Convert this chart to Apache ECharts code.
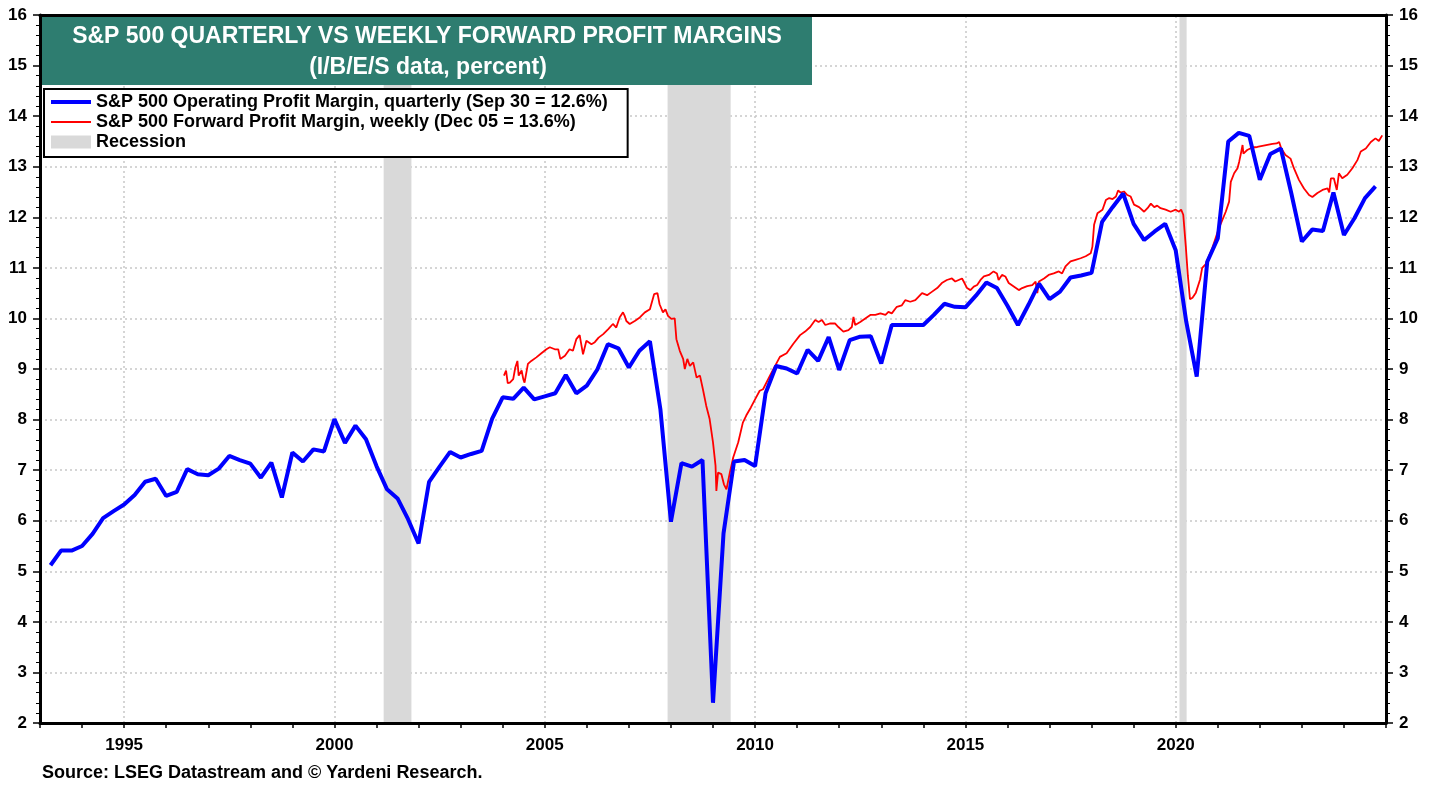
<!DOCTYPE html>
<html>
<head>
<meta charset="utf-8">
<title>S&amp;P 500 Quarterly vs Weekly Forward Profit Margins</title>
<script src="https://cdn.jsdelivr.net/npm/echarts@6/dist/echarts.min.js"></script>
<style>
  html, body { margin: 0; padding: 0; background: #fff; }
  #chart { width: 1438px; height: 787px; }
</style>
</head>
<body>
<div id="chart"></div>
<script>
// Quarterly operating profit margin, 1993 Q1 .. 2024 Q3 (percent)
const quarterlyMargin = [
  5.12, 5.41, 5.41, 5.50,   // 1993
  5.74, 6.05, 6.19, 6.32,   // 1994
  6.51, 6.77, 6.83, 6.49,   // 1995
  6.57, 7.02, 6.92, 6.90,   // 1996
  7.03, 7.28, 7.20, 7.13,   // 1997
  6.85, 7.15, 6.46, 7.35,   // 1998
  7.17, 7.41, 7.37, 8.01,   // 1999
  7.54, 7.88, 7.61, 7.08,   // 2000
  6.62, 6.44, 6.03, 5.55,   // 2001
  6.77, 7.07, 7.36, 7.25,   // 2002
  7.32, 7.38, 8.02, 8.44,   // 2003
  8.41, 8.63, 8.40, 8.46,   // 2004
  8.52, 8.88, 8.52, 8.67,   // 2005
  8.99, 9.49, 9.41, 9.03,   // 2006
  9.36, 9.55, 8.20, 5.98,   // 2007
  7.14, 7.07, 7.20, 2.40,   // 2008
  5.75, 7.17, 7.20, 7.08,   // 2009
  8.52, 9.06, 9.01, 8.91,   // 2010
  9.38, 9.16, 9.63, 8.98,   // 2011
  9.57, 9.64, 9.65, 9.11,   // 2012
  9.87, 9.87, 9.87, 9.87,   // 2013
  10.07, 10.29, 10.23, 10.22, // 2014
  10.45, 10.71, 10.60, 10.25, // 2015
  9.87, 10.27, 10.69, 10.38,  // 2016
  10.53, 10.81, 10.85, 10.90, // 2017
  11.91, 12.20, 12.47, 11.87, // 2018
  11.55, 11.72, 11.87, 11.35, // 2019
  9.94, 8.85, 11.12, 11.58,   // 2020
  13.50, 13.67, 13.61, 12.74, // 2021
  13.25, 13.36, 12.47, 11.52, // 2022
  11.76, 11.73, 12.49, 11.65, // 2023
  11.98, 12.38, 12.61         // 2024
];
const firstYear = 1993;

// Weekly forward profit margin, sampled off the chart as [decimal year, percent]
const forwardMargin = [
  [2004.03, 8.87], [2004.08, 8.97], [2004.10, 9.00], [2004.12, 8.72], [2004.17, 8.73],
  [2004.25, 8.80], [2004.30, 9.03], [2004.35, 9.16], [2004.38, 8.87], [2004.45, 8.97],
  [2004.49, 8.80], [2004.52, 8.73], [2004.60, 9.10], [2004.68, 9.16], [2004.80, 9.23],
  [2004.92, 9.31], [2005.04, 9.39], [2005.12, 9.43], [2005.24, 9.39], [2005.32, 9.39],
  [2005.37, 9.20], [2005.48, 9.26], [2005.59, 9.39], [2005.67, 9.36], [2005.75, 9.59],
  [2005.83, 9.67], [2005.91, 9.29], [2005.99, 9.56], [2006.11, 9.49], [2006.19, 9.53],
  [2006.28, 9.62], [2006.39, 9.69], [2006.51, 9.79], [2006.62, 9.89], [2006.70, 9.82],
  [2006.78, 10.02], [2006.86, 10.12], [2006.90, 10.05], [2006.94, 9.95], [2007.02, 9.89],
  [2007.14, 9.95], [2007.26, 10.02], [2007.38, 10.12], [2007.50, 10.18], [2007.60, 10.48],
  [2007.68, 10.50], [2007.73, 10.28], [2007.81, 10.12], [2007.87, 10.18], [2007.93, 10.05],
  [2008.01, 9.99], [2008.09, 10.00], [2008.13, 9.59], [2008.21, 9.36], [2008.29, 9.20],
  [2008.33, 9.00], [2008.39, 9.20], [2008.45, 9.06], [2008.53, 9.13], [2008.61, 8.83],
  [2008.69, 8.87], [2008.76, 8.60], [2008.84, 8.27], [2008.92, 8.01], [2009.00, 7.55],
  [2009.06, 7.09], [2009.08, 6.59], [2009.12, 6.95], [2009.20, 6.92], [2009.26, 6.72],
  [2009.32, 6.62], [2009.40, 6.95], [2009.48, 7.25], [2009.60, 7.55], [2009.71, 7.94],
  [2009.79, 8.08], [2009.90, 8.24], [2010.00, 8.40], [2010.11, 8.57], [2010.19, 8.60],
  [2010.36, 8.88], [2010.59, 9.24], [2010.75, 9.31], [2010.91, 9.50], [2011.07, 9.67],
  [2011.19, 9.74], [2011.31, 9.83], [2011.43, 9.97], [2011.51, 9.93], [2011.59, 9.97],
  [2011.67, 9.87], [2011.79, 9.90], [2011.90, 9.90], [2011.98, 9.83], [2012.10, 9.74],
  [2012.22, 9.77], [2012.30, 9.83], [2012.34, 10.03], [2012.38, 9.87], [2012.50, 9.93],
  [2012.62, 10.00], [2012.74, 10.07], [2012.86, 10.07], [2012.98, 10.10], [2013.10, 10.07],
  [2013.17, 10.13], [2013.25, 10.10], [2013.37, 10.23], [2013.49, 10.26], [2013.57, 10.36],
  [2013.69, 10.33], [2013.81, 10.36], [2013.89, 10.43], [2013.97, 10.50], [2014.09, 10.46],
  [2014.21, 10.53], [2014.33, 10.60], [2014.44, 10.70], [2014.56, 10.76], [2014.68, 10.79],
  [2014.76, 10.73], [2014.84, 10.76], [2014.92, 10.79], [2014.96, 10.73], [2015.04, 10.60],
  [2015.12, 10.56], [2015.20, 10.63], [2015.28, 10.66], [2015.36, 10.76], [2015.44, 10.83],
  [2015.56, 10.86], [2015.67, 10.93], [2015.75, 10.89], [2015.79, 10.76], [2015.87, 10.86],
  [2015.95, 10.83], [2016.03, 10.70], [2016.15, 10.63], [2016.27, 10.56], [2016.35, 10.60],
  [2016.47, 10.64], [2016.59, 10.66], [2016.67, 10.73], [2016.71, 10.50], [2016.75, 10.73],
  [2016.87, 10.79], [2016.98, 10.86], [2017.10, 10.89], [2017.22, 10.93], [2017.30, 10.89],
  [2017.38, 11.03], [2017.50, 11.13], [2017.62, 11.16], [2017.74, 11.19], [2017.86, 11.23],
  [2017.98, 11.29], [2018.02, 11.42], [2018.06, 11.85], [2018.14, 12.08], [2018.26, 12.15],
  [2018.34, 12.34], [2018.42, 12.38], [2018.50, 12.36], [2018.58, 12.41], [2018.63, 12.53],
  [2018.69, 12.49], [2018.77, 12.51], [2018.85, 12.44], [2018.93, 12.41], [2019.01, 12.25],
  [2019.13, 12.20], [2019.25, 12.11], [2019.33, 12.18], [2019.41, 12.27], [2019.49, 12.20],
  [2019.56, 12.23], [2019.64, 12.18], [2019.76, 12.15], [2019.88, 12.11], [2020.00, 12.15],
  [2020.08, 12.11], [2020.13, 12.15], [2020.18, 12.05], [2020.24, 11.43], [2020.29, 10.84],
  [2020.34, 10.38], [2020.40, 10.41], [2020.48, 10.51], [2020.52, 10.48], [2020.58, 10.77],
  [2020.63, 11.00], [2020.71, 11.07], [2020.79, 11.23], [2020.87, 11.39], [2020.95, 11.59],
  [2021.03, 11.79], [2021.11, 11.95], [2021.19, 12.11], [2021.27, 12.31], [2021.31, 12.70],
  [2021.39, 12.87], [2021.47, 12.97], [2021.51, 13.10], [2021.55, 13.26], [2021.59, 13.43],
  [2021.61, 13.26], [2021.70, 13.33], [2021.82, 13.38], [2021.94, 13.39], [2022.06, 13.41],
  [2022.18, 13.43], [2022.30, 13.45], [2022.40, 13.46], [2022.46, 13.49], [2022.51, 13.36],
  [2022.61, 13.23], [2022.73, 13.16], [2022.81, 12.97], [2022.93, 12.74], [2023.05, 12.57],
  [2023.17, 12.44], [2023.25, 12.40], [2023.37, 12.48], [2023.49, 12.54], [2023.61, 12.57],
  [2023.65, 12.49], [2023.69, 12.77], [2023.76, 12.77], [2023.83, 12.54], [2023.88, 12.87],
  [2023.96, 12.77], [2024.08, 12.84], [2024.20, 12.97], [2024.32, 13.13], [2024.40, 13.30],
  [2024.52, 13.36], [2024.64, 13.49], [2024.75, 13.56], [2024.83, 13.51], [2024.91, 13.62]
];

// Recession periods [start, end] in decimal years
const recessions = [[2001.17, 2001.83], [2007.92, 2009.42], [2020.09, 2020.26]];

// Years with vertical grid lines and labels
const labelYears = [1995, 2000, 2005, 2010, 2015, 2020];

const legendNames = [
  'S&P 500 Operating Profit Margin, quarterly (Sep 30 = 12.6%)',
  'S&P 500 Forward Profit Margin, weekly (Dec 05 = 13.6%)',
  'Recession'
];

const FONT = '"Liberation Sans", Arial, sans-serif';
const GRID_LINE = { color: '#c8c8c8', width: 1.5, type: [2, 3] };

const chart = echarts.init(document.getElementById('chart'));

// quarter-end positions: Q1 -> .25, Q2 -> .5 ...
const quarterlyData = quarterlyMargin.map((v, i) => [firstYear + (i + 1) * 0.25, v]);

const yAxisBase = {
  type: 'value',
  min: 2,
  max: 16,
  interval: 1,
  z: 10,
  axisLine: { show: true, lineStyle: { color: '#000', width: 3 } },
  axisTick: { show: true, length: 7, lineStyle: { color: '#000', width: 1.5 } },
  minorTick: { show: true, splitNumber: 5, length: 4, lineStyle: { color: '#000', width: 1 } },
  axisLabel: { color: '#000', fontSize: 17, fontWeight: 'bold', fontFamily: FONT, margin: 13 },
  splitLine: { show: false }
};

const option = {
  animation: false,
  backgroundColor: '#fff',
  grid: { left: 40, right: 52, top: 15, bottom: 64 },
  xAxis: [
    {
      type: 'value',
      min: 1993,
      max: 2025,
      interval: 1,
      z: 10,
      axisLine: { show: true, lineStyle: { color: '#000', width: 3 } },
      axisTick: { show: true, length: 5, lineStyle: { color: '#000', width: 1.5 } },
      splitLine: { show: false },
      axisLabel: {
        color: '#000', fontSize: 17, fontWeight: 'bold', fontFamily: FONT, margin: 14,
        formatter: v => (labelYears.includes(v) ? String(v) : '')
      }
    },
    {
      // top frame line
      type: 'value',
      position: 'top',
      min: 1993,
      max: 2025,
      interval: 1,
      z: 10,
      axisLine: { show: true, lineStyle: { color: '#000', width: 3 } },
      axisTick: { show: false },
      axisLabel: { show: false },
      splitLine: { show: false }
    }
  ],
  yAxis: [
    Object.assign({}, yAxisBase, { position: 'left' }),
    Object.assign({}, yAxisBase, { position: 'right' }),
    {
      // horizontal dotted grid lines, kept under the recession shading
      type: 'value',
      position: 'left',
      min: 2,
      max: 16,
      interval: 1,
      z: 0,
      axisLine: { show: false },
      axisTick: { show: false },
      axisLabel: { show: false },
      splitLine: { show: true, lineStyle: GRID_LINE }
    }
  ],
  legend: {
    left: 44,
    top: 89,
    z: 20,
    orient: 'vertical',
    data: [
      { name: legendNames[0], itemStyle: { opacity: 0 }, lineStyle: { width: 4, color: '#0000ff' } },
      { name: legendNames[1], itemStyle: { opacity: 0 }, lineStyle: { width: 2, color: '#ff0000' } },
      { name: legendNames[2], icon: 'rect' }
    ],
    itemWidth: 40,
    itemHeight: 13,
    itemGap: 2,
    padding: [4, 20, 6, 5],
    backgroundColor: '#fff',
    borderColor: '#000',
    borderWidth: 2,
    textStyle: { color: '#000', fontSize: 18, fontWeight: 'bold', fontFamily: FONT },
    selectedMode: false
  },
  graphic: [
    {
      type: 'rect',
      left: 42, top: 17,
      shape: { width: 770, height: 68 },
      style: { fill: '#2e7d70' },
      z: 100
    },
    {
      type: 'text',
      x: 427, y: 37,
      style: {
        text: 'S&P 500 QUARTERLY VS WEEKLY FORWARD PROFIT MARGINS',
        fill: '#fff', font: 'bold 23px ' + FONT,
        align: 'center', verticalAlign: 'middle'
      },
      z: 101
    },
    {
      type: 'text',
      x: 428, y: 68,
      style: {
        text: '(I/B/E/S data, percent)',
        fill: '#fff', font: 'bold 23px ' + FONT,
        align: 'center', verticalAlign: 'middle'
      },
      z: 101
    },
    {
      type: 'text',
      x: 42, y: 773,
      style: {
        text: 'Source: LSEG Datastream and © Yardeni Research.',
        fill: '#000', font: 'bold 18px ' + FONT,
        align: 'left', verticalAlign: 'middle'
      }
    }
  ],
  series: [
    {
      // vertical dotted grid lines every five years
      name: 'grid',
      type: 'line',
      data: [],
      silent: true,
      z: 1,
      markLine: {
        z: 1,
        silent: true,
        symbol: 'none',
        label: { show: false },
        lineStyle: GRID_LINE,
        data: labelYears.map(y => ({ xAxis: y }))
      }
    },
    {
      name: legendNames[2],
      type: 'line',
      data: [],
      z: 2,
      itemStyle: { color: '#d9d9d9' },
      lineStyle: { color: '#d9d9d9' },
      markArea: {
        z: 2,
        silent: true,
        itemStyle: { color: '#d9d9d9' },
        data: recessions.map(r => [{ xAxis: r[0] }, { xAxis: r[1] }])
      }
    },
    {
      name: legendNames[1],
      type: 'line',
      data: forwardMargin,
      showSymbol: false,
      symbol: 'none',
      z: 3,
      itemStyle: { color: '#ff0000' },
      lineStyle: { color: '#ff0000', width: 1.8 }
    },
    {
      name: legendNames[0],
      type: 'line',
      data: quarterlyData,
      showSymbol: false,
      symbol: 'none',
      z: 3,
      itemStyle: { color: '#0000ff' },
      lineStyle: { color: '#0000ff', width: 4 }
    }
  ]
};

chart.setOption(option);
</script>
</body>
</html>
